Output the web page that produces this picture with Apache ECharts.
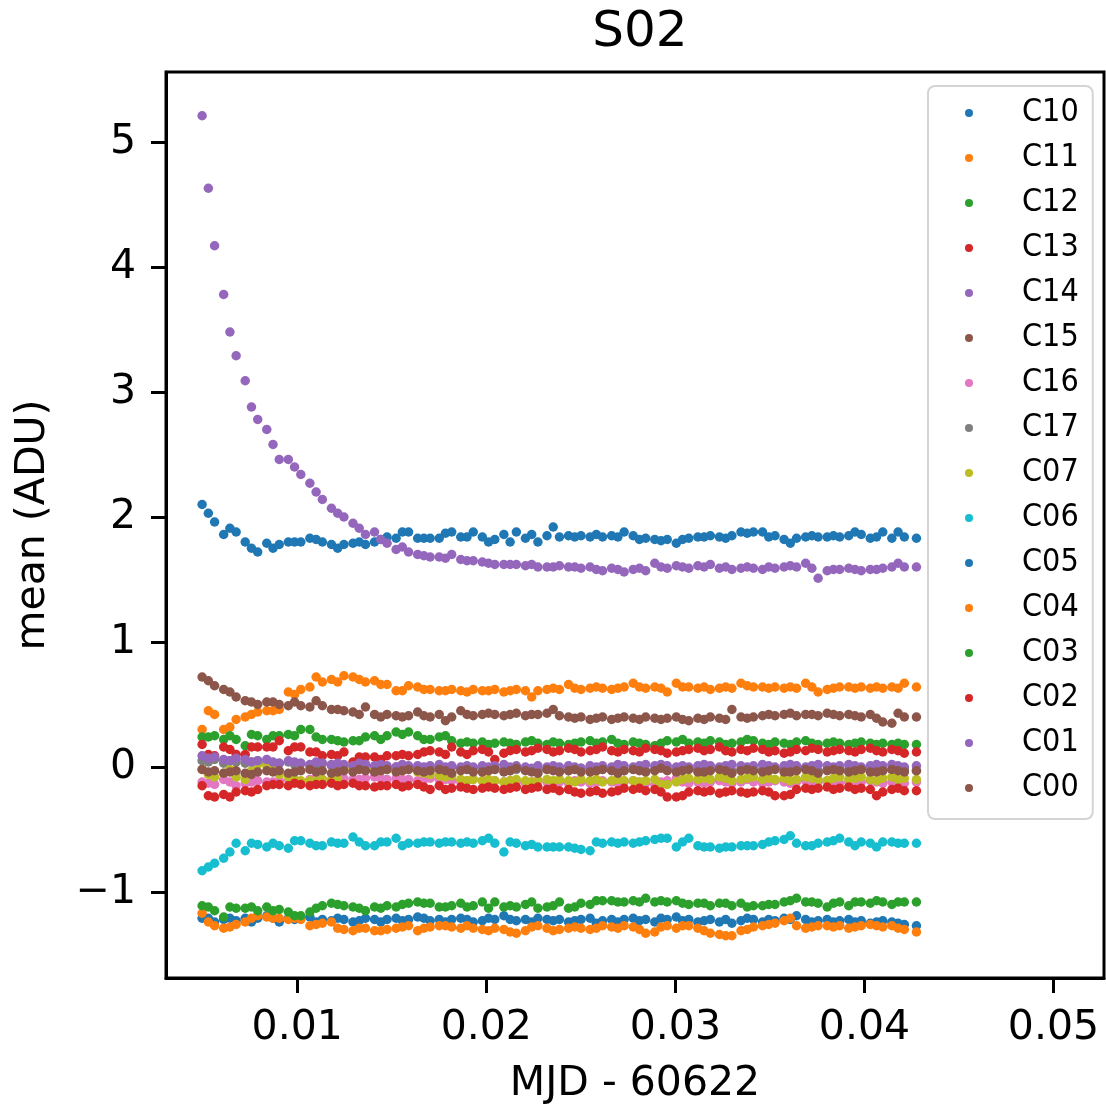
<!DOCTYPE html>
<html>
<head>
<meta charset="utf-8">
<script src="https://cdn.jsdelivr.net/npm/echarts@6/dist/echarts.min.js"></script>
<style>
  html, body { margin: 0; padding: 0; background: #fff; }
  #chart { width: 1106px; height: 1113px; }
</style>
</head>
<body>
<div id="chart"></div>
<script>
// time axis (MJD - 60622), shared by all channels
let times = [
  0.00497,0.00530,0.00563,0.00611,0.00644,0.00677,0.00725,0.00758,0.00791,0.00839,
  0.00872,0.00905,0.00953,0.00986,0.01019,0.01067,0.01100,0.01133,0.01181,0.01214,
  0.01247,0.01295,0.01328,0.01361,0.01409,0.01442,0.01475,0.01523,0.01556,0.01589,
  0.01637,0.01670,0.01703,0.01751,0.01784,0.01817,0.01865,0.01898,0.01931,0.01979,
  0.02012,0.02045,0.02093,0.02126,0.02159,0.02207,0.02240,0.02273,0.02321,0.02354,
  0.02387,0.02435,0.02468,0.02501,0.02549,0.02582,0.02615,0.02663,0.02696,0.02729,
  0.02777,0.02810,0.02843,0.02891,0.02924,0.02957,0.03005,0.03038,0.03071,0.03119,
  0.03152,0.03185,0.03233,0.03266,0.03299,0.03347,0.03380,0.03413,0.03461,0.03494,
  0.03527,0.03575,0.03608,0.03641,0.03689,0.03722,0.03755,0.03803,0.03836,0.03869,
  0.03917,0.03950,0.03983,0.04031,0.04064,0.04097,0.04145,0.04178,0.04211,0.04275
]

let C10 = [
  2.10,2.03,1.96,1.86,1.91,1.88,1.80,1.75,1.72,1.79,
  1.75,1.78,1.80,1.80,1.80,1.83,1.82,1.80,1.78,1.75,
  1.78,1.79,1.80,1.78,1.80,1.82,1.84,1.83,1.88,1.88,
  1.83,1.83,1.83,1.83,1.87,1.88,1.84,1.84,1.88,1.84,
  1.80,1.82,1.86,1.80,1.88,1.83,1.86,1.80,1.85,1.92,
  1.84,1.85,1.84,1.85,1.84,1.86,1.84,1.85,1.84,1.88,
  1.85,1.82,1.83,1.82,1.81,1.82,1.79,1.82,1.83,1.84,
  1.84,1.85,1.84,1.83,1.85,1.88,1.87,1.88,1.88,1.84,
  1.85,1.82,1.79,1.83,1.84,1.85,1.84,1.84,1.85,1.84,
  1.85,1.88,1.86,1.83,1.84,1.88,1.83,1.88,1.84,1.83
]
let C11 = [
  0.30,0.45,0.42,0.30,0.32,0.38,0.40,0.42,0.44,0.45,
  0.45,0.46,0.60,0.58,0.62,0.64,0.72,0.68,0.70,0.68,
  0.73,0.72,0.70,0.68,0.69,0.66,0.66,0.61,0.61,0.65,
  0.64,0.62,0.62,0.61,0.61,0.62,0.61,0.60,0.62,0.61,
  0.61,0.62,0.60,0.61,0.62,0.61,0.56,0.61,0.62,0.63,
  0.62,0.66,0.63,0.62,0.63,0.64,0.63,0.62,0.63,0.64,
  0.67,0.64,0.63,0.64,0.63,0.60,0.67,0.64,0.64,0.63,
  0.64,0.62,0.63,0.64,0.63,0.67,0.65,0.64,0.64,0.63,
  0.64,0.63,0.64,0.63,0.67,0.64,0.60,0.62,0.63,0.64,
  0.64,0.63,0.64,0.63,0.64,0.63,0.64,0.63,0.67,0.64
]
let C12 = [
  0.24,0.24,0.25,0.22,0.25,0.22,0.17,0.26,0.25,0.22,
  0.25,0.25,0.26,0.25,0.30,0.30,0.24,0.22,0.22,0.21,
  0.20,0.21,0.21,0.24,0.25,0.22,0.25,0.28,0.26,0.28,
  0.25,0.22,0.22,0.24,0.25,0.21,0.19,0.20,0.19,0.20,
  0.18,0.19,0.20,0.19,0.18,0.20,0.21,0.19,0.18,0.20,
  0.19,0.18,0.19,0.20,0.21,0.19,0.20,0.22,0.19,0.18,
  0.20,0.19,0.18,0.17,0.19,0.21,0.20,0.22,0.19,0.20,
  0.19,0.21,0.20,0.18,0.19,0.20,0.22,0.21,0.19,0.18,
  0.20,0.19,0.18,0.20,0.21,0.19,0.18,0.19,0.20,0.19,
  0.18,0.19,0.20,0.19,0.18,0.19,0.18,0.19,0.18,0.18
]
let C13 = [
  0.18,0.10,0.09,0.16,0.14,0.10,0.10,0.16,0.16,0.16,
  0.16,0.21,0.13,0.16,0.16,0.12,0.12,0.09,0.10,0.09,
  0.12,0.04,0.08,0.08,0.08,0.06,0.09,0.09,0.10,0.09,
  0.10,0.12,0.13,0.12,0.10,0.16,0.12,0.10,0.13,0.14,
  0.12,0.06,0.11,0.13,0.14,0.12,0.13,0.15,0.14,0.12,
  0.13,0.15,0.14,0.12,0.13,0.14,0.16,0.13,0.12,0.14,
  0.13,0.12,0.15,0.14,0.13,0.11,0.12,0.13,0.14,0.15,
  0.13,0.14,0.16,0.13,0.12,0.14,0.13,0.15,0.14,0.12,
  0.13,0.11,0.12,0.14,0.13,0.15,0.14,0.12,0.13,0.14,
  0.13,0.12,0.14,0.15,0.13,0.12,0.14,0.13,0.11,0.12
]
let C14 = [
  5.21,4.63,4.17,3.78,3.48,3.29,3.09,2.88,2.78,2.70,
  2.58,2.46,2.46,2.40,2.34,2.27,2.20,2.14,2.07,2.03,
  2.00,1.95,1.91,1.86,1.88,1.82,1.79,1.74,1.76,1.72,
  1.70,1.69,1.68,1.68,1.67,1.70,1.66,1.65,1.65,1.64,
  1.63,1.62,1.62,1.62,1.62,1.61,1.62,1.60,1.60,1.60,
  1.61,1.60,1.60,1.59,1.60,1.58,1.57,1.59,1.58,1.56,
  1.58,1.59,1.57,1.63,1.60,1.59,1.61,1.60,1.59,1.61,
  1.60,1.62,1.59,1.60,1.58,1.59,1.60,1.59,1.58,1.60,
  1.59,1.60,1.61,1.60,1.63,1.59,1.51,1.57,1.58,1.58,
  1.59,1.58,1.57,1.58,1.58,1.59,1.60,1.63,1.60,1.60
]
let C15 = [
  0.72,0.69,0.65,0.62,0.60,0.56,0.53,0.52,0.50,0.52,
  0.52,0.50,0.49,0.52,0.49,0.48,0.53,0.49,0.46,0.46,
  0.45,0.44,0.42,0.48,0.42,0.40,0.42,0.41,0.40,0.41,
  0.44,0.41,0.40,0.42,0.37,0.40,0.45,0.42,0.41,0.42,
  0.43,0.42,0.41,0.42,0.43,0.41,0.42,0.42,0.43,0.46,
  0.41,0.40,0.39,0.40,0.38,0.39,0.40,0.38,0.39,0.40,
  0.39,0.38,0.40,0.39,0.38,0.39,0.40,0.38,0.37,0.39,
  0.38,0.40,0.39,0.38,0.46,0.40,0.39,0.40,0.41,0.42,
  0.41,0.42,0.43,0.41,0.42,0.42,0.41,0.43,0.42,0.41,
  0.42,0.41,0.40,0.42,0.39,0.36,0.35,0.43,0.40,0.40
]
let C16 = [
  -0.12,-0.13,-0.14,-0.10,-0.12,-0.15,-0.13,-0.12,-0.11,-0.12,
  -0.12,-0.11,-0.10,-0.11,-0.12,-0.10,-0.09,-0.10,-0.11,-0.10,
  -0.09,-0.10,-0.10,-0.09,-0.08,-0.09,-0.10,-0.09,-0.10,-0.10,
  -0.11,-0.10,-0.09,-0.10,-0.10,-0.11,-0.12,-0.11,-0.10,-0.11,
  -0.12,-0.11,-0.12,-0.11,-0.12,-0.13,-0.12,-0.11,-0.12,-0.13,
  -0.12,-0.13,-0.11,-0.12,-0.13,-0.12,-0.11,-0.12,-0.13,-0.12,
  -0.11,-0.12,-0.13,-0.14,-0.12,-0.11,-0.09,-0.12,-0.13,-0.12,
  -0.13,-0.12,-0.11,-0.12,-0.13,-0.12,-0.10,-0.12,-0.13,-0.12,
  -0.11,-0.12,-0.13,-0.12,-0.11,-0.13,-0.12,-0.11,-0.12,-0.13,
  -0.12,-0.13,-0.12,-0.11,-0.12,-0.13,-0.12,-0.12,-0.13,-0.12
]
let C17 = [
  0.05,0.04,0.06,0.03,0.05,0.04,0.03,0.04,0.05,0.03,
  0.02,0.03,0.04,0.02,0.03,0.01,0.02,0.03,0.01,0.02,
  0.01,0.00,0.01,0.02,0.00,0.01,-0.01,0.00,0.01,-0.01,
  0.00,-0.01,0.00,-0.01,-0.02,0.00,-0.01,-0.02,-0.01,0.00,
  -0.01,-0.02,-0.01,-0.03,-0.02,-0.01,-0.02,-0.03,-0.02,-0.01,
  -0.02,-0.03,-0.02,-0.01,-0.02,-0.03,-0.02,-0.02,-0.01,-0.03,
  -0.02,-0.01,-0.03,-0.02,0.01,-0.02,-0.03,-0.02,-0.01,-0.02,
  -0.03,-0.02,-0.01,-0.02,-0.03,-0.02,-0.01,-0.03,-0.02,-0.02,
  -0.01,-0.02,-0.03,-0.02,-0.01,-0.02,-0.03,-0.02,-0.02,-0.01,
  -0.02,-0.03,-0.02,-0.01,-0.02,-0.03,-0.02,-0.01,-0.02,-0.03
]
let C07 = [
  -0.02,-0.06,-0.08,-0.05,-0.02,-0.08,-0.10,-0.03,0.02,0.01,
  -0.03,-0.06,-0.08,-0.10,-0.11,-0.11,-0.11,-0.10,-0.10,-0.09,
  -0.02,-0.02,-0.01,-0.01,-0.02,-0.03,-0.02,-0.02,-0.03,-0.02,
  -0.04,-0.05,-0.06,-0.07,-0.08,-0.07,-0.10,-0.11,-0.10,-0.11,
  -0.10,-0.11,-0.12,-0.11,-0.10,-0.11,-0.12,-0.11,-0.10,-0.11,
  -0.10,-0.11,-0.12,-0.10,-0.11,-0.10,-0.12,-0.11,-0.10,-0.11,
  -0.11,-0.12,-0.11,-0.10,-0.14,-0.14,-0.12,-0.10,-0.09,-0.10,
  -0.09,-0.10,-0.08,-0.09,-0.11,-0.10,-0.09,-0.08,-0.10,-0.09,
  -0.10,-0.09,-0.11,-0.10,-0.08,-0.09,-0.10,-0.11,-0.09,-0.08,
  -0.10,-0.09,-0.08,-0.10,-0.11,-0.09,-0.08,-0.10,-0.09,-0.10
]
let C06 = [
  -0.83,-0.80,-0.77,-0.73,-0.68,-0.61,-0.67,-0.61,-0.62,-0.64,
  -0.61,-0.63,-0.65,-0.59,-0.59,-0.61,-0.63,-0.63,-0.60,-0.61,
  -0.61,-0.56,-0.60,-0.63,-0.63,-0.60,-0.60,-0.57,-0.63,-0.61,
  -0.61,-0.60,-0.60,-0.61,-0.60,-0.60,-0.61,-0.60,-0.61,-0.59,
  -0.57,-0.61,-0.68,-0.60,-0.61,-0.63,-0.62,-0.64,-0.64,-0.64,
  -0.64,-0.64,-0.65,-0.66,-0.67,-0.60,-0.61,-0.60,-0.61,-0.60,
  -0.61,-0.60,-0.59,-0.58,-0.57,-0.57,-0.64,-0.60,-0.57,-0.63,
  -0.64,-0.64,-0.65,-0.64,-0.64,-0.63,-0.63,-0.63,-0.62,-0.60,
  -0.59,-0.58,-0.55,-0.61,-0.63,-0.63,-0.61,-0.60,-0.59,-0.57,
  -0.60,-0.63,-0.60,-0.61,-0.64,-0.60,-0.60,-0.61,-0.61,-0.61
]
let C05 = [
  -1.21,-1.21,-1.24,-1.22,-1.21,-1.23,-1.21,-1.24,-1.21,-1.19,
  -1.21,-1.24,-1.21,-1.22,-1.21,-1.20,-1.24,-1.22,-1.23,-1.21,
  -1.22,-1.24,-1.23,-1.21,-1.22,-1.24,-1.22,-1.21,-1.23,-1.22,
  -1.20,-1.21,-1.23,-1.22,-1.24,-1.22,-1.21,-1.22,-1.24,-1.23,
  -1.21,-1.22,-1.19,-1.22,-1.23,-1.22,-1.24,-1.21,-1.22,-1.23,
  -1.22,-1.24,-1.23,-1.22,-1.21,-1.25,-1.23,-1.22,-1.24,-1.22,
  -1.21,-1.23,-1.22,-1.24,-1.21,-1.22,-1.20,-1.23,-1.22,-1.24,
  -1.23,-1.22,-1.24,-1.22,-1.25,-1.23,-1.21,-1.22,-1.24,-1.22,
  -1.23,-1.21,-1.22,-1.19,-1.22,-1.24,-1.23,-1.22,-1.24,-1.23,
  -1.22,-1.24,-1.23,-1.25,-1.24,-1.23,-1.24,-1.25,-1.26,-1.27
]
let C04 = [
  -1.17,-1.24,-1.27,-1.29,-1.28,-1.26,-1.24,-1.21,-1.19,-1.20,
  -1.21,-1.21,-1.22,-1.21,-1.22,-1.27,-1.26,-1.25,-1.24,-1.29,
  -1.30,-1.31,-1.29,-1.29,-1.31,-1.31,-1.30,-1.29,-1.28,-1.27,
  -1.31,-1.29,-1.28,-1.27,-1.27,-1.28,-1.29,-1.27,-1.29,-1.30,
  -1.31,-1.29,-1.30,-1.32,-1.33,-1.31,-1.28,-1.27,-1.29,-1.31,
  -1.30,-1.29,-1.28,-1.29,-1.30,-1.29,-1.27,-1.28,-1.29,-1.27,
  -1.28,-1.30,-1.33,-1.32,-1.28,-1.27,-1.29,-1.27,-1.27,-1.29,
  -1.31,-1.33,-1.34,-1.35,-1.35,-1.31,-1.30,-1.28,-1.27,-1.26,
  -1.25,-1.23,-1.21,-1.27,-1.29,-1.28,-1.27,-1.27,-1.28,-1.27,
  -1.29,-1.28,-1.27,-1.26,-1.27,-1.28,-1.27,-1.29,-1.30,-1.32
]
let C03 = [
  -1.11,-1.12,-1.15,-1.20,-1.12,-1.13,-1.13,-1.12,-1.15,-1.12,
  -1.15,-1.14,-1.16,-1.19,-1.19,-1.16,-1.13,-1.11,-1.09,-1.10,
  -1.11,-1.12,-1.13,-1.15,-1.12,-1.13,-1.11,-1.12,-1.10,-1.09,
  -1.08,-1.09,-1.09,-1.12,-1.12,-1.11,-1.09,-1.12,-1.11,-1.08,
  -1.13,-1.08,-1.12,-1.11,-1.12,-1.10,-1.08,-1.13,-1.12,-1.11,
  -1.08,-1.13,-1.12,-1.09,-1.10,-1.07,-1.07,-1.07,-1.08,-1.08,
  -1.07,-1.08,-1.05,-1.08,-1.07,-1.08,-1.07,-1.09,-1.10,-1.09,
  -1.09,-1.11,-1.09,-1.09,-1.11,-1.09,-1.12,-1.11,-1.11,-1.10,
  -1.10,-1.08,-1.07,-1.05,-1.08,-1.08,-1.09,-1.12,-1.09,-1.08,
  -1.11,-1.08,-1.08,-1.09,-1.07,-1.08,-1.10,-1.08,-1.08,-1.08
]
let C02 = [
  -0.15,-0.23,-0.24,-0.22,-0.24,-0.20,-0.19,-0.20,-0.18,-0.15,
  -0.14,-0.14,-0.15,-0.13,-0.14,-0.15,-0.14,-0.14,-0.13,-0.15,
  -0.14,-0.13,-0.15,-0.15,-0.16,-0.15,-0.15,-0.14,-0.16,-0.15,
  -0.14,-0.16,-0.18,-0.15,-0.18,-0.17,-0.16,-0.17,-0.18,-0.17,
  -0.16,-0.17,-0.18,-0.17,-0.16,-0.18,-0.17,-0.16,-0.18,-0.17,
  -0.19,-0.18,-0.20,-0.21,-0.20,-0.19,-0.21,-0.20,-0.19,-0.17,
  -0.18,-0.17,-0.19,-0.18,-0.20,-0.24,-0.24,-0.23,-0.20,-0.19,
  -0.20,-0.19,-0.21,-0.20,-0.19,-0.20,-0.21,-0.20,-0.19,-0.20,
  -0.23,-0.23,-0.22,-0.18,-0.17,-0.18,-0.17,-0.16,-0.18,-0.17,
  -0.16,-0.18,-0.17,-0.18,-0.23,-0.20,-0.18,-0.17,-0.19,-0.19
]
let C01 = [
  0.09,0.07,0.08,0.06,0.05,0.07,0.06,0.04,0.05,0.06,
  0.04,0.03,0.05,0.04,0.03,0.02,0.04,0.03,0.02,0.03,
  0.02,0.01,0.03,0.02,0.01,0.02,0.01,0.00,0.02,0.01,
  0.01,0.00,0.01,0.02,0.00,0.01,0.00,0.01,0.00,0.01,
  0.00,0.01,0.02,0.00,0.01,0.00,-0.01,0.01,0.00,0.01,
  0.00,0.01,0.00,-0.01,0.01,0.00,0.01,0.00,0.02,0.01,
  0.00,0.01,0.02,0.01,0.02,0.01,0.00,0.01,0.00,0.01,
  0.02,0.01,0.00,0.01,0.02,0.01,0.00,0.01,0.02,0.01,
  0.00,0.01,0.02,0.01,0.00,0.01,0.02,0.01,0.00,0.01,
  0.02,0.01,0.00,0.01,0.02,0.01,0.02,0.01,0.00,0.01
]
let C00 = [
  -0.02,-0.04,-0.03,-0.05,-0.04,-0.03,-0.05,-0.06,-0.04,-0.03,
  -0.04,-0.03,-0.05,-0.04,-0.03,-0.02,-0.04,-0.03,-0.05,-0.04,
  -0.03,-0.04,-0.02,-0.03,-0.04,-0.03,-0.02,-0.04,-0.03,-0.02,
  -0.03,-0.04,-0.03,-0.02,-0.03,-0.05,-0.03,-0.02,-0.04,-0.04,
  -0.03,-0.02,-0.04,-0.03,-0.01,-0.03,-0.04,-0.05,-0.02,-0.03,
  -0.04,-0.03,-0.02,-0.04,-0.04,-0.03,-0.02,-0.03,-0.05,-0.03,
  -0.02,-0.03,-0.04,-0.03,-0.01,-0.03,-0.04,-0.03,-0.02,-0.04,
  -0.04,-0.03,-0.02,-0.03,-0.05,-0.03,-0.02,-0.03,-0.04,-0.03,
  -0.02,-0.04,-0.04,-0.03,-0.02,-0.03,-0.05,-0.03,-0.02,-0.03,
  -0.04,-0.03,-0.02,-0.04,-0.04,-0.03,-0.02,-0.03,-0.04,-0.03
]

let names = ['C10','C11','C12','C13','C14','C15','C16','C17','C07','C06','C05','C04','C03','C02','C01','C00']
let values = [C10,C11,C12,C13,C14,C15,C16,C17,C07,C06,C05,C04,C03,C02,C01,C00]
let baseColor = ['#1f77b4','#ff7f0e','#2ca02c','#d62728','#9467bd','#8c564b','#e377c2','#7f7f7f','#bcbd22','#17becf']
let xTicks = [0.01, 0.02, 0.03, 0.04, 0.05]
let yTicks = [-1, 0, 1, 2, 3, 4, 5]

let font = 'DejaVu Sans'

function makeSeries() {
  let out = []
  for (let i = 0; i < names.length; i++) {
    let pts = []
    for (let j = 0; j < times.length; j++) {
      pts.push([times[j], values[i][j]])
    }
    out.push({
      name: names[i],
      type: 'scatter',
      data: pts,
      symbolSize: 9.5,
      itemStyle: { color: baseColor[i % 10], opacity: 1 },
      emphasis: { disabled: true },
      silent: true,
      animation: false
    })
  }
  return out
}

let chart = echarts.init(document.getElementById('chart'))
let option = {
  animation: false,
  title: {
    text: 'S02',
    left: 635,
    textAlign: 'center',
    top: 3,
    textStyle: { fontFamily: font, fontSize: 50, fontWeight: 'normal', color: '#000' }
  },
  grid: {
    left: 166, right: 2, top: 72, bottom: 135,
    show: true, borderColor: '#000', borderWidth: 3, backgroundColor: 'transparent'
  },
  legend: {
    orient: 'vertical',
    left: 928,
    top: 86,
    padding: [9, 14, 13, 37],
    itemWidth: 42,
    itemHeight: 8,
    itemGap: 9,
    icon: 'circle',
    backgroundColor: 'rgba(255,255,255,0.8)',
    borderColor: '#d4d4d4',
    borderWidth: 2,
    borderRadius: 7,
    textStyle: {
      fontFamily: 'DejaVu Sans Condensed, DejaVu Sans',
      fontSize: 32,
      lineHeight: 36,
      color: '#000',
      padding: [0, 0, 0, 27]
    },
    data: names
  },
  xAxis: {
    type: 'value',
    min: 0.00306,
    max: 0.05267,
    name: 'MJD - 60622',
    nameLocation: 'middle',
    nameGap: 86,
    nameTextStyle: { fontFamily: font, fontSize: 41, color: '#000' },
    axisLine: { show: true, onZero: false, lineStyle: { color: '#000', width: 3 } },
    splitLine: { show: false },
    axisTick: { show: true, customValues: xTicks, length: 15, lineStyle: { color: '#000', width: 3 } },
    axisLabel: {
      customValues: xTicks,
      margin: 30,
      fontFamily: font, fontSize: 41, color: '#000',
      formatter: v => v.toFixed(2)
    }
  },
  yAxis: {
    type: 'value',
    min: -1.688,
    max: 5.56,
    name: 'mean (ADU)',
    nameLocation: 'middle',
    nameGap: 112,
    nameTextStyle: { fontFamily: font, fontSize: 41, color: '#000' },
    axisLine: { show: true, onZero: false, lineStyle: { color: '#000', width: 3 } },
    splitLine: { show: false },
    axisTick: { show: true, customValues: yTicks, length: 15, lineStyle: { color: '#000', width: 3 } },
    axisLabel: {
      customValues: yTicks,
      margin: 30,
      fontFamily: font, fontSize: 41, color: '#000',
      formatter: v => (v < 0 ? '\u2212' + Math.abs(v) : String(v))
    }
  },
  series: makeSeries()
}
chart.setOption(option)
</script>
</body>
</html>
